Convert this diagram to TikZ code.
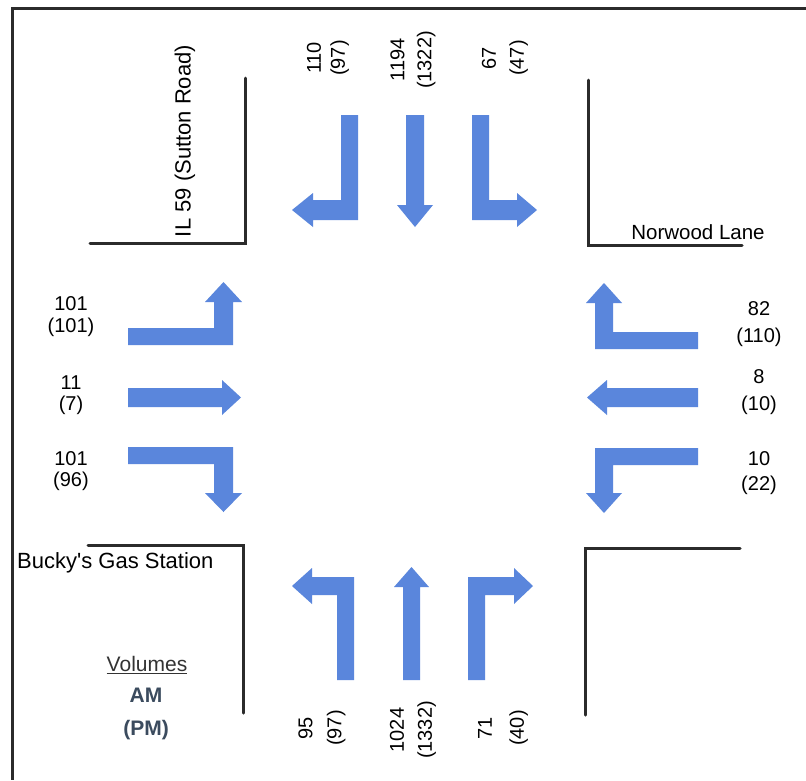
\documentclass[tikz,border=0pt]{standalone}
\usepackage{fontspec}
\setmainfont{Liberation Sans}
\definecolor{arrowblue}{HTML}{5A86DC}
\definecolor{roadline}{HTML}{2B2B2B}
\definecolor{legendblue}{HTML}{3B4B5E}
\definecolor{volgray}{HTML}{333333}
\begin{document}
\begin{tikzpicture}[x=1pt,y=-1pt,
  flow/.style={fill=arrowblue, draw=none},
  curb/.style={draw=roadline, line width=3pt, line cap=round, line join=miter},
  frameline/.style={draw=roadline, line width=3pt},
  vol/.style={font=\fontsize{20}{#1}\selectfont, align=center, inner sep=0pt},
  street/.style={font=\fontsize{#1}{#1}\selectfont, inner sep=0pt, text=black},
  legend/.style={font=\fontsize{21}{25}\selectfont\bfseries, text=legendblue, inner sep=0pt}]
\useasboundingbox (0,0) rectangle (806,780);
\fill[white] (0,0) rectangle (806,780);

% outer frame
\draw[frameline] (806,8) -- (12,8) -- (12,780);

% curb corners
\draw[curb] (90,243) -- (245,243) -- (245,78);
\draw[curb] (588,80) -- (588,245) -- (742,245);
\draw[curb] (88,545) -- (243,545) -- (243,713);
\draw[curb] (740,548) -- (585,548) -- (585,715);

% southbound arrows (top)
\fill[flow] (341,115) -- (358,115) -- (358,220) -- (313,220) -- (313,227) -- (292,210) -- (313,193) -- (313,200) -- (341,200) -- cycle;
\fill[flow] (406,115) -- (424,115) -- (424,205) -- (433,205) -- (415,227) -- (397,205) -- (406,205) -- cycle;
\fill[flow] (472,115) -- (489,115) -- (489,200) -- (517,200) -- (517,193) -- (537,210) -- (517,227) -- (517,220) -- (472,220) -- cycle;

% eastbound arrows (left)
\fill[flow] (128,328) -- (214,328) -- (214,302) -- (205,302) -- (223.5,282) -- (242,302) -- (233,302) -- (233,345) -- (128,345) -- cycle;
\fill[flow] (128,388) -- (222,388) -- (222,380) -- (241,397.5) -- (222,415) -- (222,407) -- (128,407) -- cycle;
\fill[flow] (128,447) -- (233,447) -- (233,493) -- (242,493) -- (223.5,512) -- (205,493) -- (214,493) -- (214,464) -- (128,464) -- cycle;

% westbound arrows (right)
\fill[flow] (698,332) -- (613,332) -- (613,303) -- (622,303) -- (604,283) -- (586,303) -- (595,303) -- (595,349) -- (698,349) -- cycle;
\fill[flow] (698,388) -- (607,388) -- (607,380) -- (587,397.5) -- (607,415) -- (607,407) -- (698,407) -- cycle;
\fill[flow] (698,448) -- (595,448) -- (595,493) -- (586,493) -- (604,513) -- (622,493) -- (613,493) -- (613,465) -- (698,465) -- cycle;

% northbound arrows (bottom)
\fill[flow] (354,680) -- (354,577) -- (312,577) -- (312,568) -- (292,586) -- (312,604) -- (312,595) -- (337,595) -- (337,680) -- cycle;
\fill[flow] (403,680) -- (403,587) -- (394,587) -- (411.5,567) -- (429,587) -- (420,587) -- (420,680) -- cycle;
\fill[flow] (468,680) -- (468,577) -- (514,577) -- (514,568) -- (533,586) -- (514,604) -- (514,595) -- (485,595) -- (485,680) -- cycle;

% volume labels
\node[vol=24, rotate=90] (sL) at (328,58) {110\\(97)};
\node[vol=27, rotate=90] (sT) at (413,60) {1194\\(1322)};
\node[vol=28, rotate=90] (sR) at (505,58) {67\\(47)};
\node[vol=22] (eL) at (71,317) {101\\(101)};
\node[vol=21] (eT) at (71,395) {11\\(7)};
\node[vol=21] (eR) at (71,471) {101\\(96)};
\node[vol=27] (wL) at (759,324) {82\\(110)};
\node[vol=27] (wT) at (759,392) {8\\(10)};
\node[vol=25] (wR) at (759,473) {10\\(22)};
\node[vol=29, rotate=90] (nL) at (322,728) {95\\(97)};
\node[vol=28, rotate=90] (nT) at (413,730) {1024\\(1332)};
\node[vol=32, rotate=90] (nR) at (503,728) {71\\(40)};

% street names
\node[street=22, rotate=90] (il59) at (185,141) {IL 59 (Sutton Road)};
\node[street=20.5] (norwood) at (698,232) {Norwood Lane};
\node[street=22, anchor=west] (bucky) at (17,563) {Bucky\textquotesingle s Gas Station};

% legend
\node[font=\fontsize{21}{25}\selectfont, text=volgray, inner sep=0pt] (volumes) at (147,665) {\underline{Volumes}};
\node[legend] (am) at (146,695) {AM};
\node[legend] (pm) at (146,730) {(PM)};
\end{tikzpicture}
\end{document}
